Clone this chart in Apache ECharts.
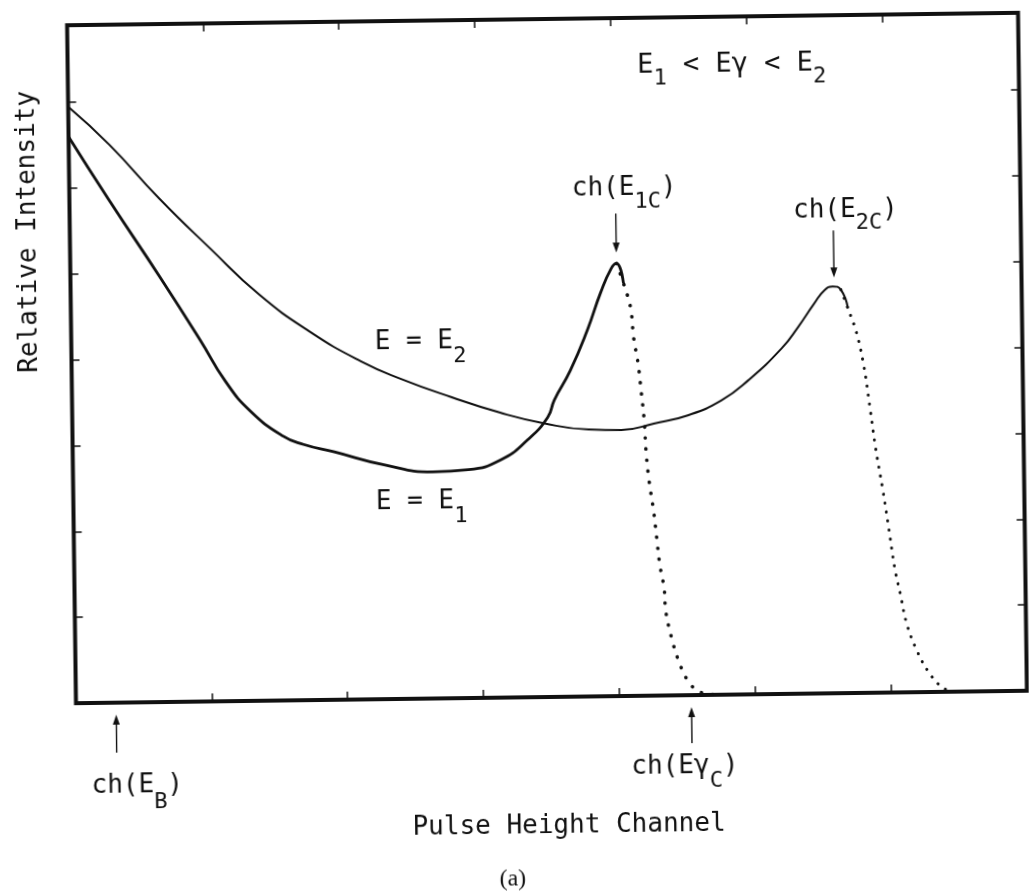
<!DOCTYPE html>
<html>
<head>
<meta charset="utf-8">
<title>Pulse height spectra</title>
<script src="https://cdn.jsdelivr.net/npm/echarts@6/dist/echarts.min.js"></script>
<style>
  html, body { margin: 0; padding: 0; background: #fff; overflow: hidden; }
  /* the plotted sheet sits slightly askew on the page */
  #chart { width: 1029px; height: 896px; transform: rotate(-0.75deg); transform-origin: 547px 358px; }
</style>
</head>
<body>
<div id="chart"></div>
<script>
// Pulse-height spectra for two incident energies with E1 < Eγ < E2.
// Channel and intensity are in arbitrary units (one unit per tick).

// E = E1: continuum up to the Compton edge ch(E1C)
const e1Channel   = [0, 0.29, 0.66, 0.95, 1.13, 1.31, 1.55, 1.70, 1.92, 2.29, 2.65, 2.91, 3.15, 3.35, 3.50, 3.55, 3.67, 3.80, 3.90, 3.98, 4.02];
const e1Intensity = [6.60, 5.86, 4.95, 4.21, 3.73, 3.38, 3.08, 2.98, 2.89, 2.73, 2.64, 2.66, 2.77, 3.00, 3.26, 3.46, 3.80, 4.27, 4.70, 4.98, 5.04];
// E = E1: fall-off above the edge (plotted point by point)
const e1EdgeChannel   = [4.02, 4.07, 4.12, 4.14, 4.17, 4.19, 4.21, 4.22, 4.24, 4.27, 4.29, 4.31, 4.34, 4.35, 4.39, 4.44, 4.51, 4.60, 4.75];
const e1EdgeIntensity = [5.04, 4.81, 4.52, 4.17, 3.87, 3.55, 3.20, 2.85, 2.50, 2.15, 1.84, 1.53, 1.25, 0.98, 0.67, 0.40, 0.16, 0.03, 0.00];

// E = E2: continuum up to the Compton edge ch(E2C)
const e2Channel   = [0, 0.30, 0.66, 1.03, 1.39, 1.76, 2.13, 2.42, 2.79, 3.15, 3.47, 3.80, 4.04, 4.28, 4.53, 4.78, 4.98, 5.23, 5.35, 5.47, 5.55, 5.61, 5.67];
const e2Intensity = [6.95, 6.50, 5.87, 5.28, 4.73, 4.29, 3.94, 3.73, 3.51, 3.32, 3.19, 3.11, 3.10, 3.17, 3.26, 3.43, 3.66, 4.03, 4.27, 4.54, 4.70, 4.74, 4.70];
// E = E2: fall-off above the edge
const e2EdgeChannel   = [5.67, 5.72, 5.78, 5.83, 5.87, 5.91, 5.96, 6.00, 6.04, 6.08, 6.12, 6.19, 6.28, 6.38, 6.47];
const e2EdgeIntensity = [4.70, 4.48, 4.20, 3.82, 3.35, 2.85, 2.35, 1.90, 1.44, 1.13, 0.81, 0.50, 0.23, 0.05, 0.00];

// Channels pointed at by the arrows
const chEB  = 0.295;  // ch(E_B)
const chE1C = 4.02;   // ch(E1C)
const chE2C = 5.62;   // ch(E2C)
const chEgC = 4.53;   // ch(Eγ_C)

const zip = (xs, ys) => xs.map((x, i) => [x, ys[i]]);

const INK = '#111';
const MONO = '"DejaVu Sans Mono", "Liberation Mono", monospace';

const axisBase = {
  type: 'value',
  axisLine: { show: false, onZero: false },
  axisLabel: { show: false },
  splitLine: { show: false },
  axisTick: { show: true, inside: true, length: 8, lineStyle: { color: INK, width: 1.5 } }
};

const smoothLine = (data, width) => ({
  type: 'line',
  data,
  showSymbol: false,
  smooth: 0.5,
  silent: true,
  lineStyle: { color: INK, width }
});

const dottedLine = (data, gap, width) => ({
  type: 'line',
  data,
  showSymbol: false,
  smooth: 0.4,
  silent: true,
  lineStyle: { color: INK, width, type: [0.1, gap], cap: 'round' }
});

// the solid trace runs one point past the peak so the top stays rounded
const e1Solid = zip(e1Channel, e1Intensity).concat([[e1EdgeChannel[1], e1EdgeIntensity[1]]]);
const e2Solid = zip(e2Channel, e2Intensity).concat([[e2EdgeChannel[1], e2EdgeIntensity[1]]]);

const option = {
  backgroundColor: '#fff',
  animation: false,
  grid: {
    left: 71.5, top: 19, width: 951, height: 678,
    show: true, borderColor: INK, borderWidth: 4, backgroundColor: 'transparent'
  },
  xAxis: [
    Object.assign({}, axisBase, { min: 0, max: 7, interval: 1, position: 'bottom' }),
    Object.assign({}, axisBase, { min: 0, max: 7, interval: 1, position: 'top' })
  ],
  yAxis: [
    Object.assign({}, axisBase, { min: 0, max: 7.9, interval: 1, position: 'left' }),
    Object.assign({}, axisBase, { min: 0, max: 7.9, interval: 1, position: 'right' })
  ],
  series: [
    smoothLine(e2Solid, 2),
    dottedLine(zip(e2EdgeChannel, e2EdgeIntensity), 9, 3),
    smoothLine(e1Solid, 2.8),
    dottedLine(zip(e1EdgeChannel, e1EdgeIntensity), 11, 3.6)
  ]
};

const chart = echarts.init(document.getElementById('chart'));
chart.setOption(option);

const toPx = (x, y) => chart.convertToPixel({ gridIndex: 0 }, [x, y]);

// Text made of plain and lowered (subscript) runs, laid out with the monospace advance.
function label(x, cy, runs, size, subSize, drop) {
  const els = [];
  let cx = x;
  runs.forEach(([t, sub]) => {
    const fs = sub ? subSize : size;
    els.push({
      type: 'text', x: cx, y: sub ? cy + drop : cy, silent: true,
      style: { text: t, fontSize: fs, fontFamily: MONO, fill: INK, textAlign: 'left', textVerticalAlign: 'middle' }
    });
    cx += t.length * fs * 0.602;
  });
  return els;
}

function arrow(x, yTail, yTip) {
  const dir = yTip > yTail ? 1 : -1;
  return [
    { type: 'line', silent: true, shape: { x1: x, y1: yTail, x2: x, y2: yTip - dir * 5 },
      style: { stroke: INK, lineWidth: 1.4 } },
    { type: 'polygon', silent: true,
      shape: { points: [[x - 3.5, yTip - dir * 10], [x + 3.5, yTip - dir * 10], [x, yTip]] },
      style: { fill: INK } }
  ];
}

const base = toPx(0, 0)[1];
const pE1 = toPx(chE1C, e1EdgeIntensity[0]);
const pE2 = toPx(chE2C, e2Intensity[e2Intensity.length - 2]);
const xEB = toPx(chEB, 0)[0];
const xEg = toPx(chEgC, 0)[0];

const elements = [].concat(
  label(641, 67, [['E', 0], ['1', 1], [' < Eγ < E', 0], ['2', 1]], 27, 22, 13),
  label(574, 189, [['ch(E', 0], ['1C', 1], [')', 0]], 26, 22, 14),
  label(795, 214, [['ch(E', 0], ['2C', 1], [')', 0]], 26, 22, 13),
  label(375, 340, [['E = E', 0], ['2', 1]], 26, 22, 15),
  label(374, 500, [['E = E', 0], ['1', 1]], 26, 22, 15),
  label(86, 780, [['ch(E', 0], ['B', 1], [')', 0]], 26, 22, 17),
  label(626, 768, [['ch(Eγ', 0], ['C', 1], [')', 0]], 26, 22, 15),
  arrow(pE1[0], pE1[1] - 50, pE1[1] - 11),
  arrow(pE2[0], pE2[1] - 56, pE2[1] - 9),
  arrow(xEB, base + 50, base + 12),
  arrow(xEg, base + 48, base + 12),
  [
    { type: 'text', x: 563, y: 826, silent: true,
      style: { text: 'Pulse Height Channel', fontSize: 26, fontFamily: MONO, fill: INK, textAlign: 'center', textVerticalAlign: 'middle' } },
    { type: 'text', x: 30, y: 225, rotation: Math.PI / 2, silent: true,
      style: { text: 'Relative Intensity', fontSize: 26, fontFamily: MONO, fill: INK, textAlign: 'center', textVerticalAlign: 'middle' } },
    { type: 'text', x: 506, y: 879, silent: true,
      style: { text: '(a)', fontSize: 24, fontFamily: '"Liberation Serif", serif', fill: INK, textAlign: 'center', textVerticalAlign: 'middle' } }
  ]
);

chart.setOption({ graphic: { elements } });
</script>
</body>
</html>
